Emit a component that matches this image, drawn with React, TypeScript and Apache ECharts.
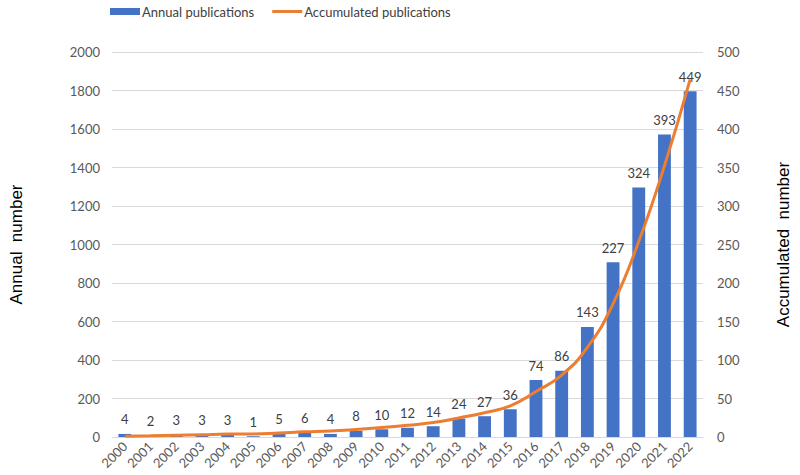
import React, { useEffect, useRef } from "react";
import * as echarts from "echarts";

const years = [
  "2000", "2001", "2002", "2003", "2004", "2005", "2006", "2007", "2008", "2009", "2010",
  "2011", "2012", "2013", "2014", "2015", "2016", "2017", "2018", "2019", "2020", "2021", "2022",
];
const annual = [4, 2, 3, 3, 3, 1, 5, 6, 4, 8, 10, 12, 14, 24, 27, 36, 74, 86, 143, 227, 324, 393, 449];
const accumulated = [4, 6, 9, 12, 15, 16, 21, 27, 31, 39, 49, 61, 75, 99, 126, 162, 236, 322, 465, 692, 1016, 1409, 1858];

const tickFont = "Lato, 'Open Sans', sans-serif";

export default function App() {
  const ref = useRef<HTMLDivElement>(null);
  useEffect(() => {
    if (!ref.current) return;
    const chart = echarts.init(ref.current, undefined, { renderer: "svg" });
    chart.setOption({
      animation: false,
      backgroundColor: "#ffffff",
      legend: {
        top: 0,
        left: 105,
        itemGap: 18,
        itemWidth: 30,
        itemHeight: 7,
        symbolKeepAspect: true,
        textStyle: { fontFamily: tickFont, fontSize: 13, color: "#404040", padding: [0, 0, 0, -3] },
        data: [
          { name: "Annual publications", icon: "rect" },
          { name: "Accumulated publications", icon: "path://M0,0 L30,0 L30,3 L0,3 Z" },
        ],
      },
      grid: { left: 96, right: 87, top: 52, bottom: 38 },
      xAxis: {
        type: "category",
        data: years,
        axisLine: { lineStyle: { color: "#d9d9d9" } },
        axisTick: { show: false },
        axisLabel: {
          rotate: 45,
          interval: 0,
          fontFamily: tickFont,
          fontSize: 13,
          color: "#595959",
          margin: 7,
        },
      },
      yAxis: [
        {
          type: "value",
          min: 0,
          max: 2000,
          interval: 200,
          name: "Annual  number",
          nameLocation: "middle",
          nameGap: 87,
          nameRotate: 90,
          nameTextStyle: { fontFamily: "'Liberation Sans', Arial, sans-serif", fontSize: 17, color: "#000" },
          axisLine: { show: false },
          axisTick: { show: false },
          axisLabel: {
            fontFamily: tickFont,
            fontSize: 13,
            color: "#595959",
            margin: 12,
            formatter: (v: number) => String(v),
          },
          splitLine: { lineStyle: { color: "#d9d9d9" } },
        },
        {
          type: "value",
          min: 0,
          max: 500,
          interval: 50,
          name: "Accumulated  number",
          nameLocation: "middle",
          nameGap: 72,
          nameRotate: 90,
          nameTextStyle: { fontFamily: "'Liberation Sans', Arial, sans-serif", fontSize: 17, color: "#000" },
          axisLine: { show: false },
          axisTick: { show: false },
          axisLabel: { fontFamily: tickFont, fontSize: 13, color: "#595959", margin: 14 },
          splitLine: { show: false },
        },
      ],
      series: [
        {
          name: "Annual publications",
          type: "bar",
          yAxisIndex: 1,
          data: annual,
          barWidth: "50%",
          itemStyle: { color: "#4472C4" },
          label: {
            show: true,
            position: "top",
            distance: 8,
            fontFamily: tickFont,
            fontSize: 13,
            color: "#404040",
          },
        },
        {
          name: "Accumulated publications",
          type: "line",
          yAxisIndex: 0,
          data: accumulated,
          smooth: true,
          symbol: "none",
          lineStyle: { color: "#ED7D31", width: 3 },
          itemStyle: { color: "#ED7D31" },
          z: 3,
        },
      ],
    });
    return () => chart.dispose();
  }, []);
  return (
    <div
      ref={ref}
      style={{ position: "absolute", left: 0, top: 0, width: 800, height: 475 }}
    />
  );
}
